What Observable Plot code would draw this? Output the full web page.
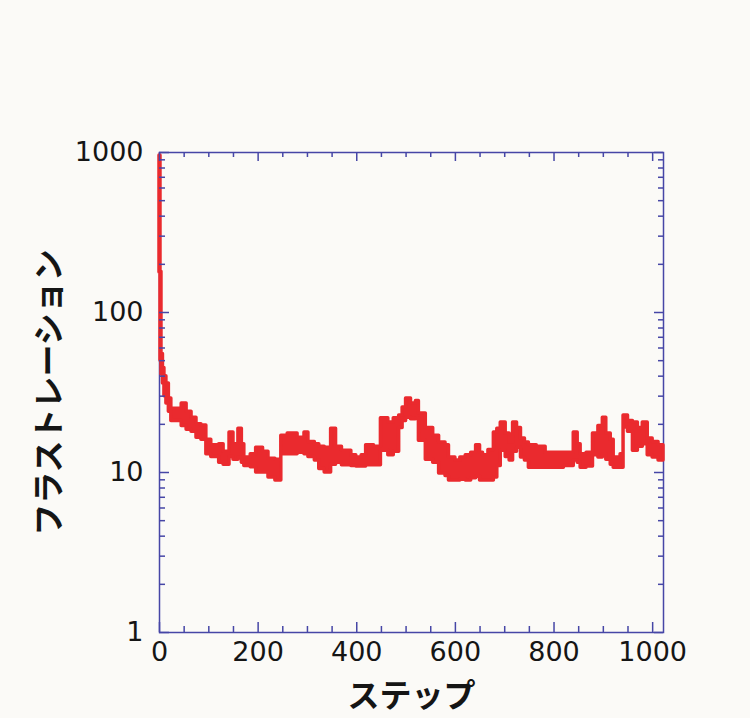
<!DOCTYPE html>
<html>
<head>
<meta charset="utf-8">
<script src="https://cdn.jsdelivr.net/npm/d3@7"></script>
<script src="https://cdn.jsdelivr.net/npm/@observablehq/plot@0.6"></script>
<style>
  html, body { margin: 0; padding: 0; background: #fbfaf7; }
  #chart svg { display: block; }
</style>
</head>
<body>
<div id="chart"></div>
<script>
// Step number and lower / upper envelope of the frustration trace
const steps = [0, 2, 4, 7, 10, 14, 19, 24, 35, 45, 55, 65, 75, 85, 95, 105, 121, 130, 142, 150, 160, 167, 172, 185, 196, 210, 221, 235, 247, 260, 280, 294, 302, 315, 324, 335, 348, 358, 370, 389, 399, 410, 419, 435, 449, 464, 475, 486, 493, 500, 510, 520, 526, 540, 555, 567, 580, 587, 600, 610, 621, 632, 642, 650, 656, 667, 678, 685, 692, 702, 710, 717, 725, 733, 741, 749, 765, 783, 800, 820, 840, 848, 854, 866, 879, 890, 899, 906, 915, 921, 935, 941, 950, 960, 970, 980, 990, 1000, 1012, 1022];
const lo = [178, 50, 41, 36, 30, 27, 24, 21, 21, 19.5, 18.5, 18, 16.5, 16, 13, 12.5, 11.5, 11.2, 12.5, 12, 12.4, 11.5, 11, 10.8, 10, 10, 9.3, 8.9, 13, 13, 13.3, 13, 12.5, 11.9, 10.5, 10, 11.2, 11.5, 11.1, 11, 10.9, 10.9, 11.1, 11.1, 13.7, 12.8, 13.5, 19, 21, 22, 21.5, 21.8, 15.8, 12, 11.5, 9.86, 9.5, 8.9, 8.9, 9.0, 8.9, 9.2, 9.4, 8.9, 8.9, 8.9, 9.3, 11, 13.7, 12.5, 11.9, 13.5, 14.3, 12.4, 11.9, 10.7, 10.7, 10.7, 10.7, 11, 11.9, 11.5, 10.7, 10.9, 12.8, 12.4, 13, 12, 11.2, 10.7, 10.7, 19.1, 18, 13.7, 14.5, 15, 12.8, 12.4, 11.9, 11.9];
const hi = [958, 180, 55, 45, 40, 36, 29, 25, 25, 27, 24, 22, 20, 19.7, 16, 14.8, 15, 13.5, 17.8, 15, 18.8, 15, 12.4, 13, 14.3, 13.5, 12.2, 12, 17, 17.5, 16.5, 17.8, 15.5, 15, 14.5, 14.3, 18.8, 14.5, 13.7, 12.8, 12.4, 12.8, 14.8, 14.5, 21.8, 20.5, 21.8, 22.7, 25.5, 29, 27, 28, 23.4, 19, 17, 15.4, 14.8, 12.4, 11.9, 12.4, 12.8, 13.3, 14.8, 13.3, 12.8, 13.8, 17.8, 18.8, 20.5, 17.5, 15.4, 20.5, 19, 16.3, 15.4, 14.8, 14.5, 13.3, 13.3, 13.3, 17.8, 15, 13, 13.3, 17.5, 19.5, 22, 17.5, 16, 12.4, 13, 22.7, 21, 20.5, 19, 20.5, 16.3, 15.5, 14.8, 14.8];

// Axis ticks
const xMajor = [0, 200, 400, 600, 800, 1000];
const xMinor = [50, 100, 150, 250, 300, 350, 450, 500, 550, 650, 700, 750, 850, 900, 950];
const yMajor = [1, 10, 100, 1000];
const yMinor = [2, 3, 4, 5, 6, 7, 8, 9, 20, 30, 40, 50, 60, 70, 80, 90, 200, 300, 400, 500, 600, 700, 800, 900];

const xLabel = "ステップ";
const yLabel = "フラストレーション";

const data = steps.map((s, i) => ({step: s, lo: lo[i], hi: hi[i]}));

const RED = "#ea2a2e";
const NAVY = "#4646a6";
const W = 750, H = 718;
const mL = 159, mR = 87, mT = 152, mB = 86;
const FW = W - mL - mR, FH = H - mT - mB;

const chart = Plot.plot({
  width: W,
  height: H,
  marginLeft: mL,
  marginRight: mR,
  marginTop: mT,
  marginBottom: mB,
  style: {background: "#fbfaf7", fontFamily: "DejaVu Sans", color: "#151515"},
  x: {domain: [0, 1022]},
  y: {type: "log", domain: [1, 1000]},
  marks: [
    Plot.frame({stroke: NAVY, strokeWidth: 1.5}),
    Plot.areaY(data, {x: "step", y1: "lo", y2: "hi", curve: "step-after", fill: RED, stroke: RED, strokeWidth: 3.5}),
    // inward ticks, bottom & top
    Plot.tickX(xMajor, {x: d => d, insetTop: FH - 10, stroke: NAVY, strokeWidth: 1.5}),
    Plot.tickX(xMinor, {x: d => d, insetTop: FH - 6, stroke: NAVY, strokeWidth: 1.5}),
    Plot.tickX(xMajor, {x: d => d, insetBottom: FH - 9, stroke: NAVY, strokeWidth: 1.5}),
    Plot.tickX(xMinor, {x: d => d, insetBottom: FH - 5, stroke: NAVY, strokeWidth: 1.5}),
    // inward ticks, left & right
    Plot.tickY(yMajor, {y: d => d, insetRight: FW - 10, stroke: NAVY, strokeWidth: 1.5}),
    Plot.tickY(yMinor, {y: d => d, insetRight: FW - 6, stroke: NAVY, strokeWidth: 1.5}),
    Plot.tickY(yMajor, {y: d => d, insetLeft: FW - 9, stroke: NAVY, strokeWidth: 1.5}),
    Plot.tickY(yMinor, {y: d => d, insetLeft: FW - 5, stroke: NAVY, strokeWidth: 1.5}),
    Plot.axisX({ticks: xMajor, tickSize: 0, tickPadding: 9, fontSize: 27, tickFormat: d => String(d), label: null}),
    Plot.axisY({ticks: yMajor, tickSize: 0, tickPadding: 16, fontSize: 27, tickFormat: d => String(d), label: null}),
    Plot.text([xLabel], {frameAnchor: "bottom", dy: 64, lineAnchor: "middle", textAnchor: "middle", fontSize: 32, fontWeight: "bold", fontFamily: "Noto Sans CJK JP", fill: "#151515"}),
    Plot.text([yLabel], {frameAnchor: "left", dx: -110, rotate: -90, textAnchor: "middle", lineAnchor: "middle", fontSize: 32, fontWeight: "bold", fontFamily: "Noto Sans CJK JP", fill: "#151515"})
  ]
});
document.getElementById("chart").appendChild(chart);
</script>
</body>
</html>
